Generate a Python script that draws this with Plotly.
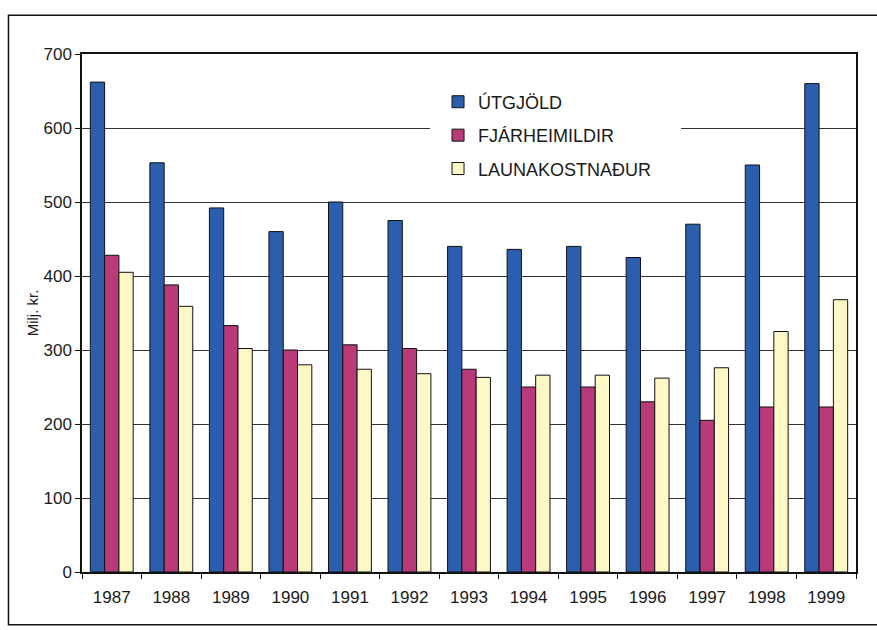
import plotly.graph_objects as go

years = ["1987", "1988", "1989", "1990", "1991", "1992", "1993",
         "1994", "1995", "1996", "1997", "1998", "1999"]
utgjold = [662, 553, 492, 460, 500, 475, 440, 436, 440, 425, 470, 550, 660]
fjarheimildir = [428, 388, 333, 300, 307, 302, 274, 250, 250, 230, 205, 223, 223]
launakostnadur = [405, 359, 302, 280, 274, 268, 263, 266, 266, 262, 276, 325, 368]
y_ticks = [0, 100, 200, 300, 400, 500, 600, 700]

series = [
    ("ÚTGJÖLD", utgjold, "#2b5fae"),
    ("FJÁRHEIMILDIR", fjarheimildir, "#b93a78"),
    ("LAUNAKOSTNAÐUR", launakostnadur, "#fdf8c6"),
]

fig = go.Figure()
for i, (name, vals, col) in enumerate(series):
    fig.add_trace(go.Bar(
        x=years, y=vals, name=name, legendgroup=f"g{i}",
        marker=dict(color=col, line=dict(color="#111111", width=1)),
    ))

font_family = "Liberation Sans, Arial, sans-serif"

fig.update_layout(
    width=877, height=630,
    margin=dict(l=82, r=21, t=54, b=58),
    paper_bgcolor="white", plot_bgcolor="white",
    barmode="group", bargap=0.28, bargroupgap=0,
    font=dict(family=font_family, color="#1a1a1a", size=17),
    showlegend=True,
    legend=dict(
        x=0.46, y=0.943, xanchor="left", yanchor="top",
        bgcolor="rgba(255,255,255,0)", font=dict(size=18, family=font_family),
        tracegroupgap=7, itemwidth=30,
    ),
    xaxis=dict(
        showline=True, mirror=True, linecolor="#111111", linewidth=1.5,
        ticks="outside", tickson="boundaries", ticklen=5, tickcolor="#111111",
        showgrid=False, tickfont=dict(size=17), ticklabelstandoff=9,
    ),
    yaxis=dict(
        range=[0, 700], tickvals=y_ticks, ticktext=[str(v) for v in y_ticks],
        showline=True, mirror=True, linecolor="#111111", linewidth=1.5,
        ticks="outside", ticklen=5, tickcolor="#111111",
        showgrid=True, gridcolor="#333333", gridwidth=1,
        tickfont=dict(size=17), zeroline=False, ticklabelstandoff=0,
        title=dict(text="Milj. kr.", font=dict(size=15), standoff=1),
    ),
    shapes=[
        # white panel behind the legend, interrupting the gridlines
        dict(type="rect", xref="paper", yref="paper",
             x0=0.4496, x1=0.774, y0=0.7375, y1=0.9595,
             fillcolor="white", line=dict(width=0), layer="above"),
        # outer frame around the whole chart
        dict(type="rect", xref="paper", yref="paper",
             x0=-0.095, x1=1.2, y0=-0.102, y1=1.075,
             fillcolor="rgba(0,0,0,0)", line=dict(color="#111111", width=1.5)),
    ],
)

fig.write_html("out.html")
